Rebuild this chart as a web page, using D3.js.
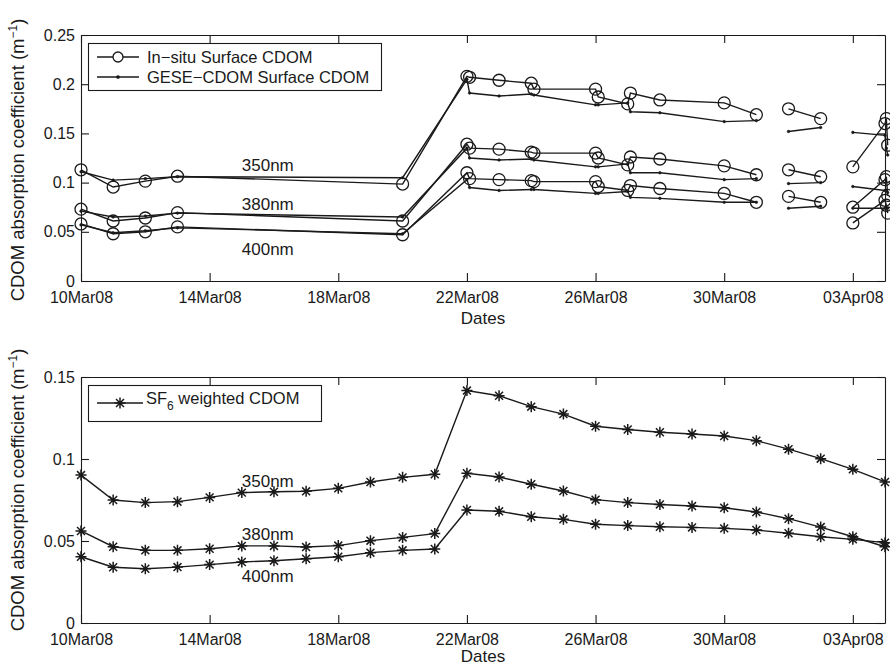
<!DOCTYPE html>
<html>
<head>
<meta charset="utf-8">
<script src="https://cdn.jsdelivr.net/npm/d3@7"></script>
<style>
body { margin: 0; background: #fff; }
svg text { font-family: "Liberation Sans", Arial, Helvetica, sans-serif; fill: #1a1a1a; }
</style>
</head>
<body>
<div id="chart"></div>
<script>
// top panel: sample times of surface CDOM (null = break in the line)
const surfDates = ["2008-03-10 00:00", "2008-03-11 00:00", "2008-03-12 00:00", "2008-03-13 00:00",
  "2008-03-20 00:00", "2008-03-22 00:00", "2008-03-22 02:00", "2008-03-23 00:00",
  "2008-03-24 00:00", "2008-03-24 02:00", "2008-03-26 00:00", "2008-03-26 02:00",
  "2008-03-27 00:00", "2008-03-27 02:00", "2008-03-28 00:00", "2008-03-30 00:00",
  "2008-03-31 00:00", null, "2008-04-01 00:00", "2008-04-02 00:00", null,
  "2008-04-03 00:00", "2008-04-04 00:00", "2008-04-04 01:00", "2008-04-04 02:00"];

const insitu350 = [0.113, 0.0955, 0.1015, 0.1065, 0.0985, 0.208, 0.207, 0.204, 0.201, 0.195, 0.195, 0.187,
  0.180, 0.191, 0.184, 0.181, 0.169, null, 0.175, 0.165, null, 0.116, 0.160, 0.165, 0.138];
const gese350 = [0.111, 0.1025, 0.104, 0.106, 0.105, 0.205, 0.191, 0.188, 0.190, 0.189, 0.179, 0.179,
  0.181, 0.172, 0.171, 0.162, 0.163, null, 0.152, 0.156, null, 0.151, 0.148, 0.135, 0.128];
const insitu380 = [0.073, 0.061, 0.064, 0.0695, 0.061, 0.139, 0.135, 0.134, 0.131, 0.130, 0.130, 0.125,
  0.118, 0.126, 0.124, 0.117, 0.108, null, 0.113, 0.106, null, 0.075, 0.103, 0.106, 0.087];
const gese380 = [0.071, 0.065, 0.066, 0.069, 0.065, 0.135, 0.125, 0.123, 0.124, 0.123, 0.116, 0.116,
  0.119, 0.110, 0.110, 0.103, 0.104, null, 0.099, 0.100, null, 0.096, 0.092, 0.092, 0.090];
const insitu400 = [0.058, 0.048, 0.050, 0.055, 0.047, 0.110, 0.104, 0.103, 0.102, 0.101, 0.101, 0.096,
  0.092, 0.097, 0.094, 0.089, 0.080, null, 0.086, 0.080, null, 0.059, 0.082, 0.077, 0.069];
const gese400 = [0.057, 0.049, 0.051, 0.054, 0.048, 0.103, 0.095, 0.092, 0.093, 0.093, 0.089, 0.089,
  0.091, 0.085, 0.084, 0.080, 0.080, null, 0.074, 0.076, null, 0.074, 0.074, 0.074, 0.074];

// bottom panel: daily SF6 weighted CDOM, 10Mar08 .. 04Apr08
const sfDates = ["2008-03-10", "2008-03-11", "2008-03-12", "2008-03-13", "2008-03-14", "2008-03-15",
  "2008-03-16", "2008-03-17", "2008-03-18", "2008-03-19", "2008-03-20", "2008-03-21", "2008-03-22",
  "2008-03-23", "2008-03-24", "2008-03-25", "2008-03-26", "2008-03-27", "2008-03-28", "2008-03-29",
  "2008-03-30", "2008-03-31", "2008-04-01", "2008-04-02", "2008-04-03", "2008-04-04"];
const sf350 = [0.0902, 0.075, 0.0734, 0.074, 0.0766, 0.0795, 0.080, 0.0803, 0.0821, 0.086, 0.0888, 0.0907,
  0.1417, 0.1386, 0.1319, 0.1274, 0.120, 0.118, 0.1163, 0.1152, 0.114, 0.1112, 0.106, 0.1002, 0.0937, 0.086];
const sf380 = [0.0561, 0.0465, 0.0443, 0.0443, 0.0453, 0.047, 0.047, 0.0463, 0.0472, 0.0502, 0.0522, 0.0545,
  0.0913, 0.089, 0.0846, 0.0805, 0.0752, 0.0734, 0.0723, 0.0713, 0.0703, 0.0677, 0.0636, 0.0585, 0.0526, 0.0465];
const sf400 = [0.0404, 0.034, 0.0331, 0.0341, 0.0356, 0.0372, 0.038, 0.0392, 0.0404, 0.0429, 0.0443, 0.0451,
  0.0689, 0.0681, 0.0648, 0.0632, 0.0602, 0.0594, 0.0587, 0.0583, 0.0577, 0.0567, 0.0547, 0.0526, 0.051, 0.049];

// axes
const dateRange = ["2008-03-10", "2008-04-04"];
const dateTicks = ["2008-03-10", "2008-03-14", "2008-03-18", "2008-03-22", "2008-03-26", "2008-03-30", "2008-04-03"];
const topYTicks = [0, 0.05, 0.1, 0.15, 0.2, 0.25];
const bottomYTicks = [0, 0.05, 0.1, 0.15];

// wavelength labels: [text, date, value]
const topLabels = [["350nm", "2008-03-15", 0.112], ["380nm", "2008-03-15", 0.072], ["400nm", "2008-03-15", 0.026]];
const bottomLabels = [["350nm", "2008-03-15", 0.083], ["380nm", "2008-03-15", 0.0505], ["400nm", "2008-03-15", 0.025]];

const width = 890, height = 666;
const left = 81, right = 885;
const ink = "#1a1a1a";

const parseT = d3.utcParse("%Y-%m-%d %H:%M");
const parseD = d3.utcParse("%Y-%m-%d");
const fmtDate = d3.utcFormat("%d%b%y");
const fmtNum = d => String(+d.toFixed(2));

const svg = d3.select("#chart").append("svg")
  .attr("width", width)
  .attr("height", height);

const x = d3.scaleUtc()
  .domain(dateRange.map(parseD))
  .range([left, right]);

function drawPanel(top, bottom, yMax, yTicks, datesGap) {
  const y = d3.scaleLinear().domain([0, yMax]).range([bottom, top]);

  // ticks point inwards on all four sides (MATLAB box)
  const g = svg.append("g");
  g.append("g")
    .attr("transform", `translate(0,${bottom})`)
    .call(d3.axisBottom(x).tickValues(dateTicks.map(parseD)).tickFormat(fmtDate)
      .tickSizeInner(-8).tickSizeOuter(0).tickPadding(11));
  g.append("g")
    .attr("transform", `translate(0,${top})`)
    .call(d3.axisTop(x).tickValues(dateTicks.map(parseD)).tickFormat("")
      .tickSizeInner(-8).tickSizeOuter(0));
  g.append("g")
    .attr("transform", `translate(${left},0)`)
    .call(d3.axisLeft(y).tickValues(yTicks).tickFormat(fmtNum)
      .tickSizeInner(-8).tickSizeOuter(0).tickPadding(6));
  g.append("g")
    .attr("transform", `translate(${right},0)`)
    .call(d3.axisRight(y).tickValues(yTicks).tickFormat("")
      .tickSizeInner(-8).tickSizeOuter(0));
  g.selectAll(".domain, .tick line").attr("stroke", ink).attr("stroke-width", 1.1);
  g.selectAll(".tick text").attr("font-size", 16).attr("fill", ink);

  g.append("text")
    .attr("x", (left + right) / 2)
    .attr("y", bottom + datesGap)
    .attr("text-anchor", "middle")
    .attr("font-size", 17)
    .text("Dates");

  return y;
}

function yLabel(cy) {
  const t = svg.append("text")
    .attr("transform", `translate(24,${cy}) rotate(-90)`)
    .attr("text-anchor", "middle")
    .attr("font-size", 18.5);
  t.append("tspan").text("CDOM absorption coefficient (m");
  t.append("tspan").attr("dy", -7).attr("font-size", 12).text("\u22121");
  t.append("tspan").attr("dy", 7).text(")");
}

function starPath(cx, cy, r) {
  const d = r * 0.72;
  return `M${cx - r},${cy}H${cx + r}M${cx},${cy - r}V${cy + r}` +
    `M${cx - d},${cy - d}L${cx + d},${cy + d}M${cx - d},${cy + d}L${cx + d},${cy - d}`;
}

// ---- top panel
const yTop = drawPanel(35, 281, 0.25, topYTicks, 43);
yLabel(160);

const lineTop = d3.line()
  .defined(d => d.v != null)
  .x(d => x(d.t))
  .y(d => yTop(d.v));

const surfT = surfDates.map(s => s ? parseT(s) : null);
const surface = [
  { vals: insitu350, mark: "circle" }, { vals: gese350, mark: "dot" },
  { vals: insitu380, mark: "circle" }, { vals: gese380, mark: "dot" },
  { vals: insitu400, mark: "circle" }, { vals: gese400, mark: "dot" }
];

surface.forEach(s => {
  const pts = s.vals.map((v, i) => ({ t: surfT[i], v: v }));
  svg.append("path")
    .datum(pts)
    .attr("d", lineTop)
    .attr("fill", "none")
    .attr("stroke", ink)
    .attr("stroke-width", 1.4);
  svg.append("g")
    .selectAll("circle")
    .data(pts.filter(d => d.v != null))
    .join("circle")
    .attr("cx", d => x(d.t))
    .attr("cy", d => yTop(d.v))
    .attr("r", s.mark == "circle" ? 6 : 1.3)
    .attr("fill", s.mark == "circle" ? "none" : ink)
    .attr("stroke", ink)
    .attr("stroke-width", s.mark == "circle" ? 1.3 : 0.6);
});

topLabels.forEach(l => {
  svg.append("text")
    .attr("x", x(parseD(l[1])))
    .attr("y", yTop(l[2]))
    .attr("font-size", 17)
    .text(l[0]);
});

// legend top
const legTop = svg.append("g");
legTop.append("rect")
  .attr("x", 88.5).attr("y", 43.5).attr("width", 293).attr("height", 47)
  .attr("fill", "#fff").attr("stroke", ink).attr("stroke-width", 1.1);
[["In\u2212situ Surface CDOM", 57, "circle"], ["GESE\u2212CDOM Surface CDOM", 77, "dot"]].forEach(r => {
  legTop.append("line")
    .attr("x1", 97).attr("x2", 139).attr("y1", r[1]).attr("y2", r[1])
    .attr("stroke", ink).attr("stroke-width", 1.4);
  legTop.append("circle")
    .attr("cx", 118).attr("cy", r[1])
    .attr("r", r[2] == "circle" ? 5 : 1.2)
    .attr("fill", r[2] == "circle" ? "#fff" : ink)
    .attr("stroke", ink).attr("stroke-width", 1.3);
  legTop.append("text")
    .attr("x", 147).attr("y", r[1] + 6)
    .attr("font-size", 16.5)
    .text(r[0]);
});

// ---- bottom panel
const yBot = drawPanel(377, 623, 0.15, bottomYTicks, 39);
yLabel(490);

const lineBot = d3.line()
  .x(d => x(d.t))
  .y(d => yBot(d.v));

const sfT = sfDates.map(parseD);
[sf350, sf380, sf400].forEach(vals => {
  const pts = vals.map((v, i) => ({ t: sfT[i], v: v }));
  svg.append("path")
    .datum(pts)
    .attr("d", lineBot)
    .attr("fill", "none")
    .attr("stroke", ink)
    .attr("stroke-width", 1.4);
  svg.append("g")
    .selectAll("path")
    .data(pts)
    .join("path")
    .attr("d", d => starPath(x(d.t), yBot(d.v), 5.5))
    .attr("stroke", ink)
    .attr("stroke-width", 1.5);
});

bottomLabels.forEach(l => {
  svg.append("text")
    .attr("x", x(parseD(l[1])))
    .attr("y", yBot(l[2]))
    .attr("font-size", 17)
    .text(l[0]);
});

// legend bottom
const legBot = svg.append("g");
legBot.append("rect")
  .attr("x", 88.5).attr("y", 385.5).attr("width", 233).attr("height", 36)
  .attr("fill", "#fff").attr("stroke", ink).attr("stroke-width", 1.1);
legBot.append("line")
  .attr("x1", 97).attr("x2", 143).attr("y1", 403).attr("y2", 403)
  .attr("stroke", ink).attr("stroke-width", 1.4);
legBot.append("path")
  .attr("d", starPath(120, 403, 5.5))
  .attr("stroke", ink).attr("stroke-width", 1.5);
const sfText = legBot.append("text")
  .attr("x", 146).attr("y", 404)
  .attr("font-size", 16.5);
sfText.append("tspan").text("SF");
sfText.append("tspan").attr("dy", 6).attr("font-size", 12).text("6");
sfText.append("tspan").attr("dy", -6).text(" weighted CDOM");
</script>
</body>
</html>
